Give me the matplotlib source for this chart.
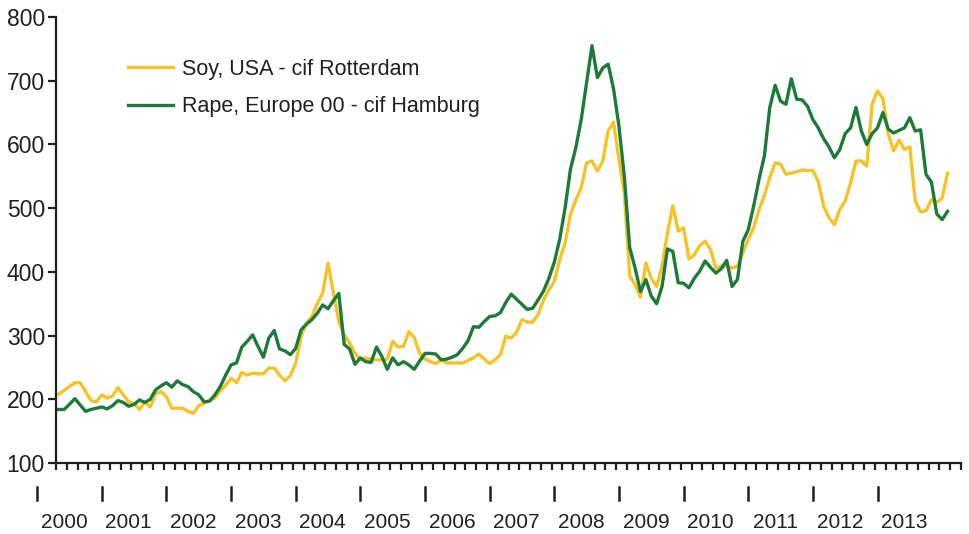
import numpy as np
import matplotlib
matplotlib.use('Agg')
import matplotlib.pyplot as plt
import matplotlib.transforms as mtransforms

plt.rcParams['font.family'] = ['Liberation Sans', 'DejaVu Sans']

# monthly prices, Jan 2000 - Oct 2013
soy = [208, 214, 220, 226, 226, 212, 198, 196, 207, 202, 205, 218,
       207, 196, 193, 184, 196, 188, 209, 212, 204, 186, 186, 186,
       181, 178, 190, 194, 198, 202, 213, 222, 233, 226, 242, 238,
       241, 240, 240, 249, 249, 238, 229, 237, 257, 299, 320, 330,
       350, 367, 414, 367, 322, 301, 288, 272, 262, 265, 263, 262,
       262, 263, 291, 282, 283, 306, 297, 272, 263, 259, 256, 262,
       257, 257, 257, 257, 261, 265, 271, 263, 256, 262, 270, 299,
       296, 305, 325, 321, 321, 333, 356, 372, 385, 419, 445, 490,
       513, 532, 571, 574, 558, 574, 621, 635, 576, 524, 393, 380,
       360, 414, 390, 377, 409, 461, 504, 464, 469, 420, 427, 441,
       448, 435, 406, 409, 409, 406, 409, 430, 451, 469, 498, 520,
       548, 571, 569, 553, 555, 557, 560, 559, 559, 542, 503, 485,
       474, 498, 511, 540, 574, 574, 566, 663, 684, 672, 616, 590,
       607, 592, 596, 511, 494, 496, 513, 509, 516, 555]

rape = [184, 184, 192, 201, 191, 181, 184, 186, 188, 185, 190, 198,
        195, 189, 192, 199, 195, 200, 215, 221, 226, 219, 229, 223,
        220, 212, 207, 196, 197, 207, 220, 238, 254, 257, 282, 291,
        301, 283, 266, 296, 308, 279, 276, 270, 280, 309, 318, 325,
        335, 348, 342, 355, 366, 286, 279, 255, 265, 259, 258, 282,
        267, 247, 265, 254, 259, 254, 247, 260, 272, 272, 271, 262,
        263, 266, 270, 280, 292, 314, 313, 322, 330, 331, 336, 352,
        365, 357, 349, 341, 343, 356, 370, 390, 415, 451, 500, 561,
        595, 639, 697, 755, 705, 720, 726, 687, 629, 550, 438, 406,
        369, 388, 362, 350, 377, 436, 432, 383, 382, 375, 390, 401,
        417, 407, 398, 405, 418, 377, 388, 448, 466, 503, 545, 582,
        658, 693, 668, 663, 703, 671, 670, 660, 639, 626, 609, 596,
        579, 592, 617, 626, 658, 621, 600, 617, 626, 650, 624, 618,
        622, 626, 642, 621, 623, 553, 541, 491, 482, 495]

years = list(range(2000, 2014))
labels = ['Soy, USA - cif Rotterdam', 'Rape, Europe 00 - cif Hamburg']

dark = '#231f20'
yellow = '#f5c328'
green = '#1e7a38'

fig = plt.figure(figsize=(9.69, 5.34), dpi=100)
ax = fig.add_axes([56 / 969, 1 - 463 / 534, 905 / 969, 446 / 534])

months = np.arange(len(soy))
ax.plot(months, soy, color=yellow, lw=2.4, label=labels[0])
ax.plot(months, rape, color=green, lw=2.4, label=labels[1])

ax.set_xlim(-0.5, 167.5)
ax.set_ylim(100, 800)
ax.set_yticks(range(100, 801, 100))
ax.set_xticks(np.arange(-0.5, 168, 2))
ax.set_xticklabels([])

for s in ['top', 'right']:
    ax.spines[s].set_visible(False)
for s in ['left', 'bottom']:
    ax.spines[s].set_linewidth(1.6)
    ax.spines[s].set_color(dark)
ax.tick_params(axis='x', direction='out', length=5, width=1.6, color=dark)
ax.tick_params(axis='y', direction='out', length=6, width=1.6, color=dark,
               labelsize=16.5, labelcolor=dark, pad=2)

# year markers and labels under the axis
trans = mtransforms.blended_transform_factory(ax.transData, ax.transAxes)
for i, yr in enumerate(years):
    xt = i * 12 - 4
    ax.plot([xt, xt], [-0.054, -0.083], color=dark, lw=1.8, transform=trans,
            clip_on=False)
    ax.text(i * 12 + 1, -0.133, str(yr), transform=trans, ha='center',
            va='center', fontsize=15, color=dark)

ax.legend(loc='upper left', bbox_to_anchor=(0.0796, 0.906), frameon=False,
          fontsize=15.5, handlelength=2.1, handletextpad=0.4,
          labelspacing=0.75, borderpad=0, borderaxespad=0,
          labelcolor=dark)

plt.savefig('out.png', dpi=100)
